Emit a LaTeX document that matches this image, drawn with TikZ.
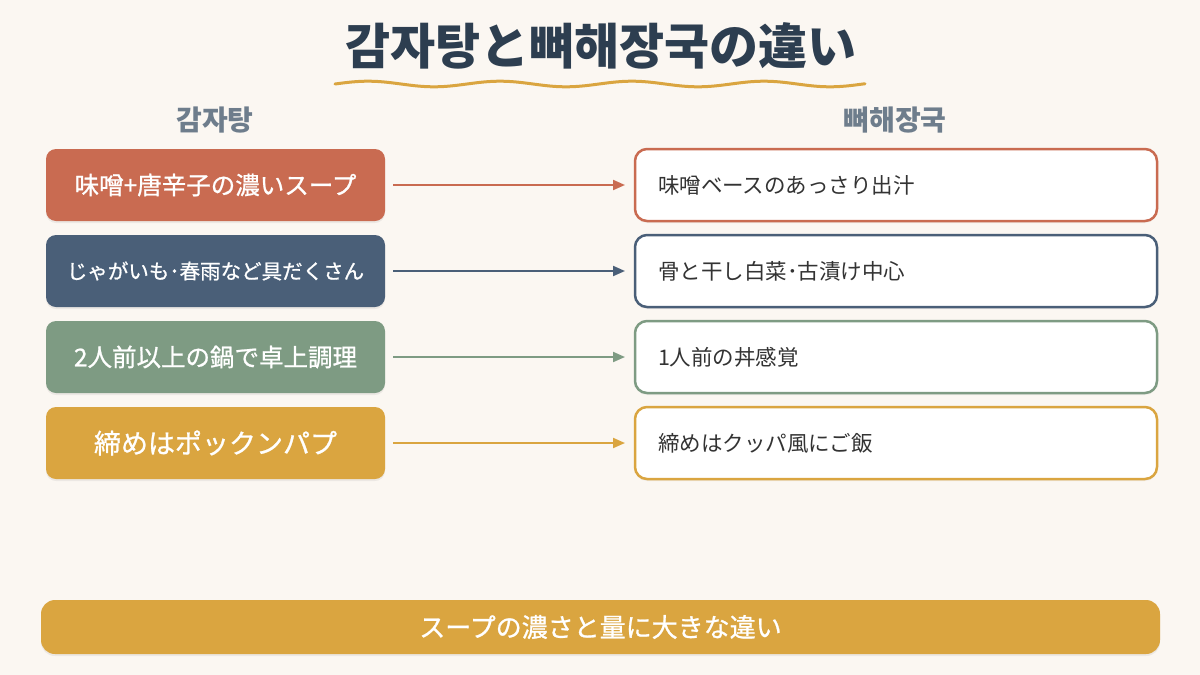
\documentclass[tikz,border=0pt]{standalone}
\usepackage{fontspec}
\setmainfont{Noto Sans CJK JP}
\newfontfamily\medfont{Noto Sans CJK JP}[FakeBold=0.9]
\usetikzlibrary{shadows,arrows.meta,calc}
\definecolor{bgc}{HTML}{FBF7F2}
\definecolor{titlec}{HTML}{2D3E50}
\definecolor{headc}{HTML}{6E7D8C}
\definecolor{terra}{HTML}{C96B51}
\definecolor{slate}{HTML}{4A5F78}
\definecolor{sage}{HTML}{7E9B83}
\definecolor{gold}{HTML}{DAA540}
\definecolor{rtext}{HTML}{333333}
\tikzset{
  lbox/.style={rounded corners=10pt, minimum width=339pt, minimum height=72pt, inner sep=0pt, outer sep=0pt,
    text=white, font=\medfont\fontsize{24.5}{28}\selectfont,
    drop shadow={opacity=0.12, shadow xshift=0pt, shadow yshift=-2pt}},
  rbox/.style={rounded corners=12pt, draw=#1, line width=2.5pt, fill=white, minimum height=72pt,
    inner xsep=23pt, inner ysep=0pt, text width=476pt, align=left, outer sep=0pt,
    text=rtext, font=\fontsize{21.5}{26}\selectfont,
    drop shadow={opacity=0.08, shadow xshift=0pt, shadow yshift=-2pt}},
  conn/.style={draw=#1, line width=2pt, -{Triangle[length=12pt,width=10pt]}, shorten <=8pt, shorten >=10pt},
  head/.style={text=headc, font=\fontsize{28}{32}\selectfont\bfseries}
}
\begin{document}
\begin{tikzpicture}[x=1pt,y=-1pt]
\fill[bgc] (0,0) rectangle (1200,675);
\useasboundingbox (0,0) rectangle (1200,675);
% title
\node[text=titlec, font=\fontsize{49}{54}\selectfont\bfseries] (title) at (601,46) {감자탕と뼈해장국の違い};
\draw[gold, line width=3pt, line cap=round, domain=335:865, samples=200] plot (\x, {84 - 2.8*sin((\x-335)/132*360)});
% headers
\node[head] (hl) at (215,120) {감자탕};
\node[head] (hr) at (895,120) {뼈해장국};
% left boxes
\node[lbox, fill=terra] (l1) at (215.5,185) {味噌+唐辛子の濃いスープ};
\node[lbox, fill=slate, font=\medfont\fontsize{20.5}{26}\selectfont] (l2) at (215.5,271) {じゃがいも･春雨など具だくさん};
\node[lbox, fill=sage] (l3) at (215.5,357) {2人前以上の鍋で卓上調理};
\node[lbox, fill=gold, font=\medfont\fontsize{27}{30}\selectfont] (l4) at (215.5,443) {締めはポックンパプ};
% right boxes
\node[rbox=terra] (r1) at (896,185) {味噌ベースのあっさり出汁};
\node[rbox=slate] (r2) at (896,271) {骨と干し白菜･古漬け中心};
\node[rbox=sage] (r3) at (896,357) {1人前の丼感覚};
\node[rbox=gold] (r4) at (896,443) {締めはクッパ風にご飯};
% arrows
\draw[conn=terra] (l1.east) -- (r1.west);
\draw[conn=slate] (l2.east) -- (r2.west);
\draw[conn=sage] (l3.east) -- (r3.west);
\draw[conn=gold] (l4.east) -- (r4.west);
% bottom bar
\node[rounded corners=14pt, fill=gold, minimum width=1119pt, minimum height=54pt, inner sep=0pt,
  text=white, font=\medfont\fontsize{26}{30}\selectfont,
  drop shadow={opacity=0.12, shadow xshift=0pt, shadow yshift=-2pt}] (bar) at (600.5,627) {スープの濃さと量に大きな違い};
\end{tikzpicture}
\end{document}
